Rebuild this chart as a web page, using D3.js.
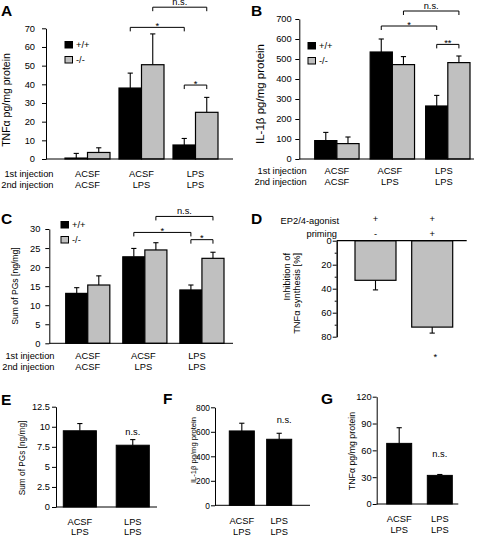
<!DOCTYPE html>
<html><head><meta charset="utf-8">
<script src="https://cdn.jsdelivr.net/npm/d3@7"></script>
<style>
body{margin:0;background:#fff}
svg{display:block}
text{font-family:"Liberation Sans",Arial,sans-serif;font-size:9.3px;fill:#000}
.letter{font-weight:bold;font-size:15.5px}
</style></head><body>
<svg id="c" width="477" height="537"></svg>
<script>
// ---------- data ----------
const groups = ["ACSF/ACSF", "ACSF/LPS", "LPS/LPS"];
const firstInjection = ["ACSF", "ACSF", "LPS"];
const secondInjection = ["ACSF", "LPS", "LPS"];
const genotypes = ["+/+", "-/-"];

// A: TNFα
const tnfWT = [0.5, 38, 7.5];
const tnfWTErr = [2.5, 8, 3.5];
const tnfKO = [3.5, 50.5, 25];
const tnfKOErr = [2.5, 16.5, 8];
const tnfTicks = [0, 10, 20, 30, 40, 50, 60, 70];

// B: IL-1β
const il1WT = [92, 535, 265];
const il1WTErr = [41, 65, 53];
const il1KO = [77, 472, 482];
const il1KOErr = [33, 40, 33];
const il1Ticks = [0, 100, 200, 300, 400, 500, 600, 700];

// C: sum of PGs
const pgWT = [13.1, 22.7, 14.0];
const pgWTErr = [1.5, 2.2, 1.3];
const pgKO = [15.3, 24.5, 22.3];
const pgKOErr = [2.4, 1.9, 1.6];
const pgTicks = [0, 5, 10, 15, 20, 25, 30];

// D: inhibition of TNFα synthesis
const dCategories = ["no priming", "priming"];
const dAgonist = ["+", "+"];
const dPriming = ["-", "+"];
const dValues = [33, 72];
const dErr = [8, 5];
const dTicks = [0, 20, 40, 60, 80];
const dMinorTicks = [10, 30, 50, 70];

// E, F, G
const efgCategories = ["ACSF/LPS", "LPS/LPS"];
const efgFirst = ["ACSF", "LPS"];
const efgSecond = ["LPS", "LPS"];
const eValues = [9.5, 7.7];
const eErr = [0.9, 0.7];
const eTicks = [0, 2.5, 5, 7.5, 10, 12.5];
const fValues = [607, 539];
const fErr = [63, 49];
const fTicks = [0, 200, 400, 600, 800];
const gValues = [67.8, 32];
const gErr = [17.5, 1];
const gTicks = [0, 30, 60, 90, 120];

// brackets: [groupIndex, seriesIndex] -> [groupIndex, seriesIndex], level in data units
const bracketsA = [
  {a: [1, 0], b: [2, 0], level: 70.5, label: "*"},
  {a: [1, 1], b: [2, 1], level: 81.3, label: "n.s."},
  {a: [2, 0], b: [2, 1], level: 39.6, label: "*"}
];
const bracketsB = [
  {a: [1, 0], b: [2, 0], level: 665, label: "*"},
  {a: [1, 1], b: [2, 1], level: 740, label: "n.s."},
  {a: [2, 0], b: [2, 1], level: 573, label: "**"}
];
const bracketsC = [
  {a: [1, 0], b: [2, 0], level: 29.1, label: "*"},
  {a: [1, 1], b: [2, 1], level: 33.3, label: "n.s."},
  {a: [2, 0], b: [2, 1], level: 27.2, label: "*"}
];

const genoFill = ["#000000", "#c0c0c0"];

// ---------- drawing ----------
const svg = d3.select("#c");

function yAxis(g, y, ticks, x0, pad, fontSize) {
  const ax = d3.axisLeft(y).tickValues(ticks).tickSize(4).tickSizeOuter(0)
    .tickPadding(pad).tickFormat(d3.format("~g"));
  const a = g.append("g").attr("transform", `translate(${x0},0)`).call(ax);
  a.attr("font-size", null).attr("font-family", null);
  a.selectAll("text").attr("fill", "#000");
  if (fontSize) a.selectAll("text").style("font-size", fontSize + "px");
  a.selectAll("path,line").attr("stroke", "#000").attr("stroke-width", 1);
  return a;
}

function yLabel(g, text, cx, cy, size) {
  g.append("text").attr("transform", `translate(${cx},${cy}) rotate(-90)`)
    .attr("text-anchor", "middle").attr("dy", "0.35em")
    .style("font-size", size + "px").text(text);
}

function errorBar(g, cx, y0, y1) {
  g.append("line").attr("x1", cx).attr("x2", cx).attr("y1", y0).attr("y2", y1)
    .attr("stroke", "#000").attr("stroke-width", 1.1);
  g.append("line").attr("x1", cx - 2.6).attr("x2", cx + 2.6).attr("y1", y1).attr("y2", y1)
    .attr("stroke", "#000").attr("stroke-width", 1.1);
}

function groupedPanel(o) {
  const g = svg.append("g");
  const y = d3.scaleLinear().domain([0, d3.max(o.ticks)]).range(o.yRange);
  const x = d3.scaleBand().domain(groups).range(o.xRange).paddingInner(o.padIn).paddingOuter(0);
  const xs = d3.scaleBand().domain(genotypes).range([0, x.bandwidth()]);
  const cx = (gi, si) => x(groups[gi]) + xs(genotypes[si]) + xs.bandwidth() / 2;

  o.series.forEach((vals, si) => {
    vals.forEach((v, gi) => {
      const bx = x(groups[gi]) + xs(genotypes[si]);
      errorBar(g, cx(gi, si), y(v), y(v + o.errs[si][gi]));
      g.append("rect").attr("x", bx).attr("y", y(v)).attr("width", xs.bandwidth())
        .attr("height", Math.max(0.8, y(0) - y(v)))
        .attr("fill", genoFill[si]).attr("stroke", "#000").attr("stroke-width", 1.2);
    });
  });

  yAxis(g, y, o.ticks, o.axisX, o.pad);
  g.append("line").attr("x1", o.axisX).attr("x2", o.axisEnd).attr("y1", y(0)).attr("y2", y(0))
    .attr("stroke", "#000").attr("stroke-width", 1);

  // brackets
  o.brackets.forEach(b => {
    const xa = cx(b.a[0], b.a[1]), xb = cx(b.b[0], b.b[1]), yl = y(b.level);
    g.append("path").attr("d", `M${xa},${yl + 4}V${yl}H${xb}V${yl + 4}`)
      .attr("fill", "none").attr("stroke", "#000").attr("stroke-width", 1);
    g.append("text").attr("x", (xa + xb) / 2).attr("y", b.label === "n.s." ? yl - 2.5 : yl + 1.5)
      .attr("text-anchor", "middle").text(b.label);
  });

  // legend
  genotypes.forEach((gt, si) => {
    const ly = o.legend[1] + si * 15;
    g.append("rect").attr("x", o.legend[0]).attr("y", ly).attr("width", 7.5).attr("height", 6.5)
      .attr("fill", genoFill[si]).attr("stroke", "#000").attr("stroke-width", 1);
    g.append("text").attr("x", o.legend[0] + 11).attr("y", ly + 3.3).attr("dy", "0.35em").text(gt);
  });

  // injection rows
  [["1st injection", firstInjection, o.rows[0]], ["2nd injection", secondInjection, o.rows[1]]]
    .forEach(([lab, arr, ry]) => {
      g.append("text").attr("x", o.rowLabelX).attr("y", ry).attr("dy", "0.35em")
        .attr("text-anchor", "end").text(lab);
      arr.forEach((t, gi) => {
        g.append("text").attr("x", x(groups[gi]) + x.bandwidth() / 2 + (o.rowShift ? o.rowShift[gi] : 0))
          .attr("y", ry).attr("dy", "0.35em").attr("text-anchor", "middle").text(t);
      });
    });

  yLabel(g, o.yLabel, o.yLabelPos[0], o.yLabelPos[1], o.yLabelSize);
  g.append("text").attr("class", "letter").attr("x", o.letterPos[0]).attr("y", o.letterPos[1]).text(o.letter);
}

function simplePanel(o) {
  const g = svg.append("g");
  const y = d3.scaleLinear().domain([0, d3.max(o.ticks)]).range(o.yRange);
  const x = d3.scaleBand().domain(efgCategories).range(o.xRange).paddingInner(o.padIn).paddingOuter(0);
  o.values.forEach((v, i) => {
    const bx = x(efgCategories[i]), c = bx + x.bandwidth() / 2;
    errorBar(g, c, y(v), y(v + o.errs[i]));
    g.append("rect").attr("x", bx).attr("y", y(v)).attr("width", x.bandwidth())
      .attr("height", y(0) - y(v)).attr("fill", "#000").attr("stroke", "#000");
  });
  yAxis(g, y, o.ticks, o.axisX, o.pad, o.tickSize);
  g.append("line").attr("x1", o.axisX).attr("x2", o.axisEnd).attr("y1", y(0)).attr("y2", y(0))
    .attr("stroke", "#000");
  const c1 = x(efgCategories[1]) + x.bandwidth() / 2;
  g.append("text").attr("x", c1 + o.nsShift[0]).attr("y", o.nsShift[1]).attr("dy", "0.35em")
    .attr("text-anchor", "middle").text("n.s.");
  [[efgFirst, o.rows[0]], [efgSecond, o.rows[1]]].forEach(([arr, ry]) => {
    arr.forEach((t, i) => {
      g.append("text").attr("x", x(efgCategories[i]) + x.bandwidth() / 2).attr("y", ry)
        .attr("dy", "0.35em").attr("text-anchor", "middle").text(t);
    });
  });
  yLabel(g, o.yLabel, o.yLabelPos[0], o.yLabelPos[1], o.yLabelSize);
  g.append("text").attr("class", "letter").attr("x", o.letterPos[0]).attr("y", o.letterPos[1]).text(o.letter);
}

// Panel A
groupedPanel({
  letter: "A", letterPos: [1, 16],
  series: [tnfWT, tnfKO], errs: [tnfWTErr, tnfKOErr], ticks: tnfTicks,
  yRange: [159, 28.3], xRange: [65, 218], padIn: 0.1667,
  axisX: 46, axisEnd: 233, pad: 7,
  brackets: bracketsA, legend: [65, 41.5],
  rows: [173.5, 185], rowLabelX: 53.5,
  yLabel: "TNFα pg/mg protein", yLabelPos: [6.5, 100], yLabelSize: 10.5
});

// Panel B
groupedPanel({
  letter: "B", letterPos: [251, 16],
  series: [il1WT, il1KO], errs: [il1WTErr, il1KOErr], ticks: il1Ticks,
  yRange: [159, 19], xRange: [314.7, 470], padIn: 0.2,
  axisX: 299.3, axisEnd: 474, pad: 3.6,
  brackets: bracketsB, legend: [308, 42.5],
  rows: [171, 182], rowLabelX: 306.7, rowShift: [0, -2.5, -4],
  yLabel: "IL-1β pg/mg protein", yLabelPos: [260, 94], yLabelSize: 11.5
});

// Panel C
groupedPanel({
  letter: "C", letterPos: [1, 224],
  series: [pgWT, pgKO], errs: [pgWTErr, pgKOErr], ticks: pgTicks,
  yRange: [343.3, 229], xRange: [65.7, 224], padIn: 0.227,
  axisX: 49.3, axisEnd: 233, pad: 5,
  brackets: bracketsC, legend: [61, 221.5],
  rows: [356, 366.7], rowLabelX: 54.5, rowShift: [0, -1.5, -5],
  yLabel: "Sum of PGs [ng/mg]", yLabelPos: [15, 286], yLabelSize: 8.6
});

// Panel D
(function () {
  const g = svg.append("g");
  const y = d3.scaleLinear().domain([0, 80]).range([240.7, 336.7]);
  const x = d3.scaleBand().domain(dCategories).range([355, 452.7]).paddingInner(0.277).paddingOuter(0);
  dValues.forEach((v, i) => {
    const bx = x(dCategories[i]), c = bx + x.bandwidth() / 2;
    errorBar(g, c, y(v), y(v + dErr[i]));
    g.append("rect").attr("x", bx).attr("y", y(0)).attr("width", x.bandwidth())
      .attr("height", y(v) - y(0)).attr("fill", "#c0c0c0").attr("stroke", "#000").attr("stroke-width", 1.2);
    g.append("text").attr("x", c).attr("y", 219).attr("dy", "0.35em").attr("text-anchor", "middle").text(dAgonist[i]);
    g.append("text").attr("x", c).attr("y", 234).attr("dy", "0.35em").attr("text-anchor", "middle").text(dPriming[i]);
  });
  const ax = d3.axisLeft(y).tickValues(dTicks).tickSize(4).tickSizeOuter(0).tickPadding(1);
  const a = g.append("g").attr("transform", "translate(336.7,0)").call(ax);
  a.attr("font-size", null).attr("font-family", null);
  a.selectAll("text").attr("fill", "#000");
  a.selectAll("path,line").attr("stroke", "#000");
  g.append("g").attr("transform", "translate(336.7,0)")
    .call(d3.axisLeft(y).tickValues(dMinorTicks).tickSize(2).tickSizeOuter(0).tickFormat(""))
    .selectAll("path,line").attr("stroke", "#000");
  g.append("line").attr("x1", 336.7).attr("x2", 466.7).attr("y1", y(0)).attr("y2", y(0))
    .attr("stroke", "#000").attr("stroke-width", 1.2);
  const c2 = x(dCategories[1]) + x.bandwidth() / 2;
  g.append("text").attr("x", c2 + 3).attr("y", y(dValues[1] + dErr[1]) + 27).attr("text-anchor", "middle").text("*");
  g.append("text").attr("x", 339).attr("y", 221).attr("dy", "0.35em").attr("text-anchor", "end").text("EP2/4-agonist");
  g.append("text").attr("x", 337).attr("y", 234).attr("dy", "0.35em").attr("text-anchor", "end").text("priming");
  g.append("text").attr("transform", "translate(286.7,253) rotate(-90)").attr("text-anchor", "end").attr("dy", "0.35em").text("Inhibition of");
  g.append("text").attr("transform", "translate(296.7,253) rotate(-90)").attr("text-anchor", "end").attr("dy", "0.35em").text("TNFα synthesis [%]");
  g.append("text").attr("class", "letter").attr("x", 251).attr("y", 224).text("D");
})();

// Panel E
simplePanel({
  letter: "E", letterPos: [1, 405],
  values: eValues, errs: eErr, ticks: eTicks,
  yRange: [507, 406.7], xRange: [63.3, 149.3], padIn: 0.375,
  axisX: 56, axisEnd: 157, pad: 2,
  nsShift: [0, 432], rows: [521.5, 532],
  yLabel: "Sum of PGs [ng/mg]", yLabelPos: [22.5, 458], yLabelSize: 8.3
});

// Panel F
simplePanel({
  letter: "F", letterPos: [163, 404],
  values: fValues, errs: fErr, ticks: fTicks, tickSize: 8.4,
  yRange: [505.3, 407.3], xRange: [229.3, 291.7], padIn: 0.33,
  axisX: 215, axisEnd: 310, pad: 1,
  nsShift: [5, 419.5], rows: [520.7, 531.7],
  yLabel: "IL-1β pg/mg protein", yLabelPos: [193.5, 450], yLabelSize: 7.6
});

// Panel G
simplePanel({
  letter: "G", letterPos: [321, 404],
  values: gValues, errs: gErr, ticks: gTicks,
  yRange: [504, 396.7], xRange: [386.7, 452.3], padIn: 0.385,
  axisX: 376.7, axisEnd: 458.3, pad: 1,
  nsShift: [0, 453.3], rows: [518.3, 529.3],
  yLabel: "TNFα pg/mg protein", yLabelPos: [351.7, 451], yLabelSize: 8.8
});
</script>
</body></html>
